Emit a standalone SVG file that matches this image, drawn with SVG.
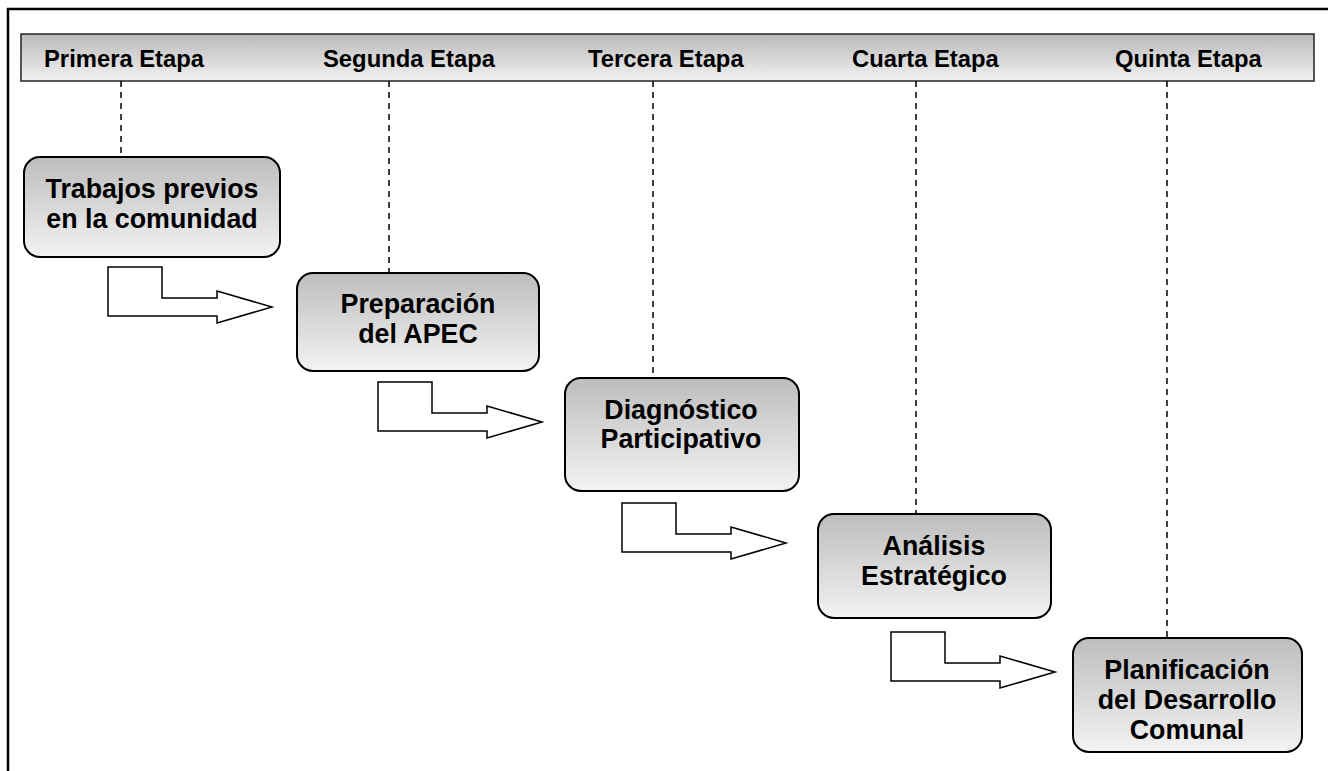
<svg xmlns="http://www.w3.org/2000/svg" width="1328" height="771" viewBox="0 0 1328 771">
  <defs>
    <linearGradient id="gNode" x1="0" y1="0" x2="0" y2="1">
      <stop offset="0" stop-color="#bdbdbd"/>
      <stop offset="1" stop-color="#f3f3f3"/>
    </linearGradient>
    <linearGradient id="gBar" x1="0" y1="0" x2="0" y2="1">
      <stop offset="0" stop-color="#b9b9b9"/>
      <stop offset="1" stop-color="#f2f2f2"/>
    </linearGradient>
    <path id="bentArrow" d="M0,0 H54 V31 H109 V24 L164,40 L109,56 V49 H0 Z"/>
  </defs>
  <style>
    .frame { stroke: #000; stroke-width: 2.5; fill: none; }
    .bar { fill: url(#gBar); stroke: #222; stroke-width: 1.5; }
    .head { font-family: "Liberation Sans", Arial, sans-serif; font-weight: bold; font-size: 23.8px; fill: #000; }
    .node rect { fill: url(#gNode); stroke: #000; stroke-width: 2; }
    .node text { font-family: "Liberation Sans", Arial, sans-serif; font-weight: bold; font-size: 26.8px; fill: #000; text-anchor: middle; }
    .dash { stroke: #000; stroke-width: 1.5; stroke-dasharray: 6 5; fill: none; }
    .arrow { fill: #fff; stroke: #000; stroke-width: 1.5; }
  </style>
  <rect width="1328" height="771" fill="#fff"/>
  <g id="frame">
    <path class="frame" d="M8,771 V9 H1328"/>
  </g>
  <g id="header">
    <rect class="bar" x="21" y="34" width="1293" height="47"/>
    <text class="head" x="44" y="67">Primera Etapa</text>
    <text class="head" x="323" y="67">Segunda Etapa</text>
    <text class="head" x="588" y="67">Tercera Etapa</text>
    <text class="head" x="852" y="67">Cuarta Etapa</text>
    <text class="head" x="1115" y="67">Quinta Etapa</text>
  </g>
  <g id="connectors">
    <line class="dash" x1="121" y1="81" x2="121" y2="157"/>
    <line class="dash" x1="389" y1="81" x2="389" y2="273"/>
    <line class="dash" x1="653" y1="81" x2="653" y2="378"/>
    <line class="dash" x1="916" y1="81" x2="916" y2="514"/>
    <line class="dash" x1="1167" y1="81" x2="1167" y2="638"/>
    <use class="arrow" href="#bentArrow" x="108" y="267"/>
    <use class="arrow" href="#bentArrow" x="378" y="382"/>
    <use class="arrow" href="#bentArrow" x="622" y="503"/>
    <use class="arrow" href="#bentArrow" x="891" y="632"/>
  </g>
  <g id="n1" class="node">
    <rect x="24" y="157" width="256" height="100" rx="16"/>
    <text x="152" y="198">Trabajos previos</text>
    <text x="152" y="228">en la comunidad</text>
  </g>
  <g id="n2" class="node">
    <rect x="297" y="273" width="242" height="98" rx="16"/>
    <text x="418" y="313">Preparación</text>
    <text x="418" y="343">del APEC</text>
  </g>
  <g id="n3" class="node">
    <rect x="565" y="378" width="234" height="113" rx="16"/>
    <text x="681" y="419">Diagnóstico</text>
    <text x="681" y="448">Participativo</text>
  </g>
  <g id="n4" class="node">
    <rect x="818" y="514" width="233" height="104" rx="16"/>
    <text x="934" y="555">Análisis</text>
    <text x="934" y="585">Estratégico</text>
  </g>
  <g id="n5" class="node">
    <rect x="1073" y="638" width="229" height="114" rx="16"/>
    <text x="1187" y="679">Planificación</text>
    <text x="1187" y="709">del Desarrollo</text>
    <text x="1187" y="739">Comunal</text>
  </g>
</svg>
